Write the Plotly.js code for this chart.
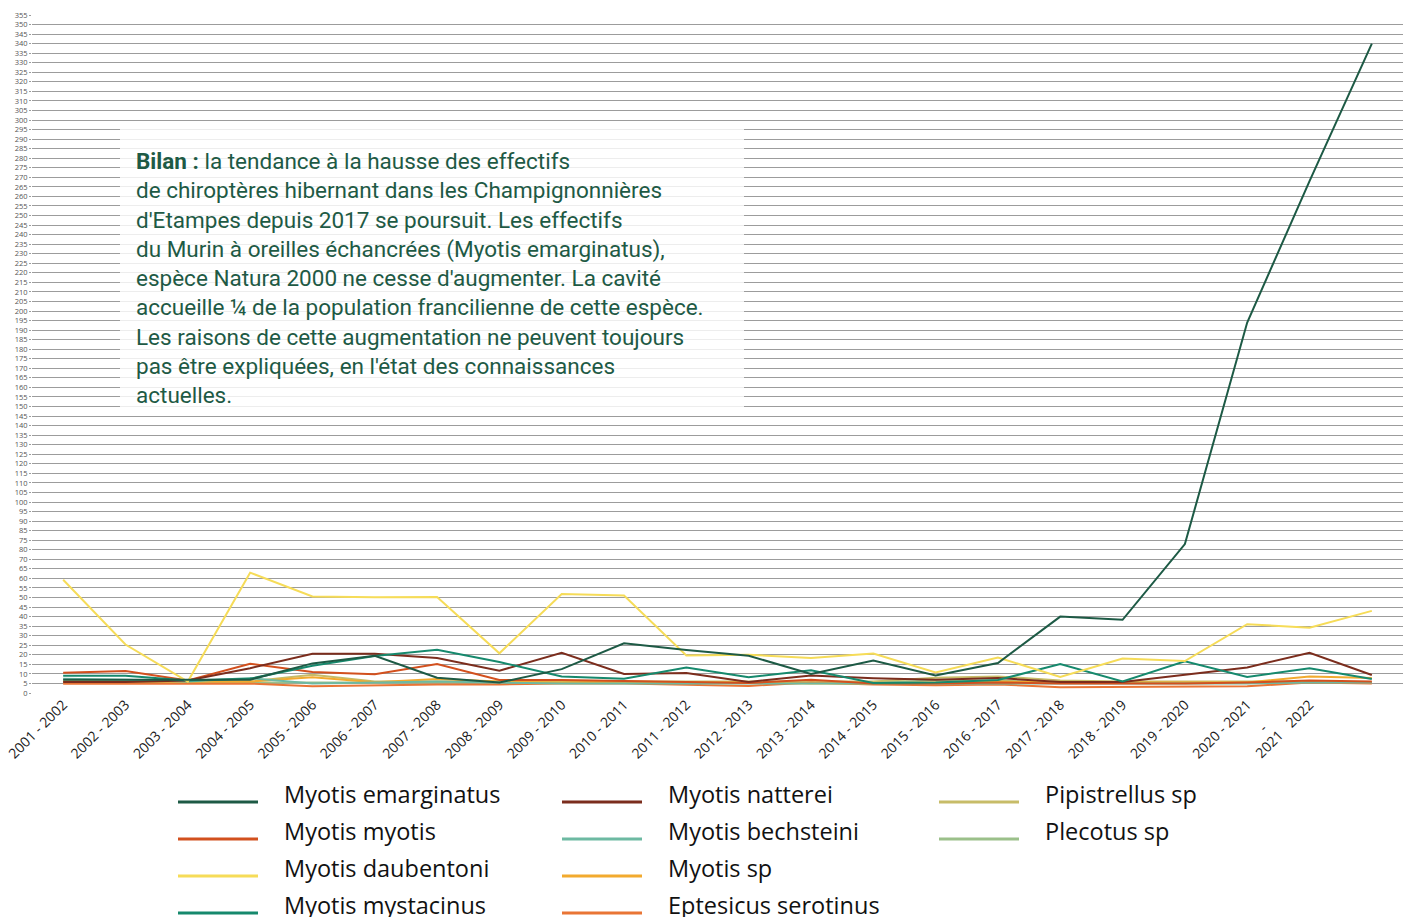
<!DOCTYPE html>
<html><head><meta charset="utf-8">
<script src="https://cdn.plot.ly/plotly-3.0.1.min.js"></script>
<style>html,body{margin:0;padding:0;background:#fff}#chart{width:1407px;height:917px}</style>
</head><body><div id="chart"></div>
<script>
// ---------- DATA ----------
const categories = ["2001 - 2002","2002 - 2003","2003 - 2004","2004 - 2005","2005 - 2006","2006 - 2007","2007 - 2008","2008 - 2009","2009 - 2010","2010 - 2011","2011 - 2012","2012 - 2013","2013 - 2014","2014 - 2015","2015 - 2016","2016 - 2017","2017 - 2018","2018 - 2019","2019 - 2020","2020 - 2021","2021\u00a0\u00a0\u00a02022"," "];

const emarginatus = [7, 7, 7, 7, 15.5, 19.5, 8, 5.5, 12.5, 26, 22.5, 19.5, 10, 17, 9.2, 15.7, 40, 38.3, 78, 194, 268, 340];
const myotis      = [10.6, 11.5, 6.5, 15.3, 11, 9.8, 15.2, 6.8, 6.8, 6.5, 5.8, 5.2, 7, 5, 5, 5.5, 5, 5, 5, 5.5, 6.5, 6];
const daubentoni  = [59.3, 25.4, 6, 63, 50.5, 50.2, 50.3, 20.8, 51.8, 51, 19.6, 20, 18.3, 20.7, 10.7, 18.6, 8.4, 18.1, 16.7, 36, 34.2, 43];
const mystacinus  = [9, 9, 6.6, 7.5, 14.3, 19.4, 22.7, 16.2, 8.7, 7.5, 13.4, 8.2, 11.9, 5.2, 5.5, 6.8, 15.2, 6.1, 16.6, 8.4, 12.9, 7.3];
const natterei    = [5.8, 5.8, 6.5, 13, 20.6, 20.6, 18.3, 11.7, 21.1, 10, 10.5, 5.8, 9.1, 7.7, 7, 7.8, 5.8, 5.8, 9.6, 13.4, 21.1, 9.4];
const bechsteini  = [7.5, 7, 6, 7.8, 5, 5.5, 6, 5.5, 5, 5, 5, 5, 5, 5, 5, 5, 5, 5, 5, 5, 5.5, 5.5];
const myotisSp    = [6, 6, 6, 6, 8.2, 5.6, 7.3, 6, 5.5, 6, 5.5, 5.5, 5, 5, 5.5, 6, 5.5, 5.5, 5.5, 5.5, 8.7, 7.8];
const serotinus   = [4.8, 4.8, 5, 5, 3.5, 4, 4.5, 4.5, 5, 5, 4.5, 3.7, 5.5, 4.5, 4, 4.5, 3, 3.2, 3.5, 3.5, 5.5, 5];
const pipistrellus= [6, 6, 6, 6, 9.6, 6, 6, 6, 6, 6, 6, 6, 6, 6, 8, 8.7, 6.5, 6, 6, 6, 6, 5.5];
const plecotus    = [5.5, 5.5, 5.5, 5.5, 5.5, 5.5, 5.5, 5.5, 5.5, 5.5, 5.5, 5.5, 5.5, 5.5, 6.5, 6.5, 5.5, 5.5, 5.5, 5.5, 5.5, 5.5];

const seriesNames = ["Myotis emarginatus","Myotis myotis","Myotis daubentoni","Myotis mystacinus","Myotis natterei","Myotis bechsteini","Myotis sp","Eptesicus serotinus","Pipistrellus sp","Plecotus sp"];
const seriesValues = [emarginatus, myotis, daubentoni, mystacinus, natterei, bechsteini, myotisSp, serotinus, pipistrellus, plecotus];
const seriesColors = ["#1d5a45","#d2501e","#f6dc58","#16896d","#7b2d1d","#6db9a2","#f2aa2e","#e97535","#c7bc68","#9bc08a"];

const yTickValues = [0,5,10,15,20,25,30,35,40,45,50,55,60,65,70,75,80,85,90,95,100,105,110,115,120,125,130,135,140,145,150,155,160,165,170,175,180,185,190,195,200,205,210,215,220,225,230,235,240,245,250,255,260,265,270,275,280,285,290,295,300,305,310,315,320,325,330,335,340,345,350,355];
const yTickLabels = ["0","5","10","15","20","25","30","35","40","45","50","55","60","65","70","80","75","85","90","95","100","105","110","115","120","125","130","135","140","145","150","155","160","165","170","175","180","185","190","195","200","205","210","215","220","225","230","235","240","245","250","255","260","265","270","275","280","285","290","295","300","305","310","315","320","325","330","335","340","345","350","355"];

const noteLines = [
  "<b>Bilan :</b> la tendance à la hausse des effectifs",
  "de chiroptères hibernant dans les Champignonnières",
  "d'Etampes depuis 2017 se poursuit. Les effectifs",
  "du Murin à oreilles échancrées (Myotis emarginatus),",
  "espèce Natura 2000 ne cesse d'augmenter. La cavité",
  "accueille ¼ de la population francilienne de cette espèce.",
  "Les raisons de cette augmentation ne peuvent toujours",
  "pas être expliquées, en l'état des connaissances",
  "actuelles."
];

// ---------- LAYOUT HELPERS (pixel -> paper) ----------
const W = 1407, H = 917;
const M = {l: 32, r: 4, t: 15, b: 224};
const plotW = W - M.l - M.r, plotH = H - M.t - M.b;
const px = x => (x - M.l) / plotW;
const py = y => (H - M.b - y) / plotH;

// draw order: minor ones first, main on top
const drawOrder = [9, 8, 7, 6, 5, 1, 4, 3, 2, 0];
const traces = drawOrder.map(i => ({
  type: "scatter", mode: "lines",
  x: categories, y: seriesValues[i], name: seriesNames[i],
  line: {color: seriesColors[i], width: 2},
  showlegend: false, hoverinfo: "x+y+name"
}));

const shapes = [];
const annotations = [];

// note box
shapes.push({type: "rect", xref: "paper", yref: "paper",
  x0: px(120), x1: px(744), y0: py(416), y1: py(127),
  fillcolor: "rgba(255,255,255,0.82)", line: {width: 0}, layer: "above"});
annotations.push({xref: "paper", yref: "paper", x: px(134), y: py(278),
  xanchor: "left", yanchor: "middle", align: "left", showarrow: false,
  text: noteLines.join("<br>"),
  font: {family: "Roboto", size: 22.5, color: "#1e5a45"}});

// small dash of the 2021-2022 tick label
annotations.push({xref: "paper", yref: "paper", x: px(1262), y: py(727),
  xanchor: "center", yanchor: "middle", showarrow: false, text: "-", textangle: -45,
  font: {family: "Open Sans, Noto Sans", size: 14, color: "#1a1a1a"}});

// manual legend (3 columns, 4 rows)
const legCols = [{line: 178, text: 282}, {line: 562, text: 666}, {line: 939, text: 1043}];
const legRowsLine = [802, 839, 876, 913];
const legRowsText = [794, 831, 868, 905];
seriesNames.forEach((name, i) => {
  const c = legCols[Math.floor(i / 4)], r = i % 4;
  shapes.push({type: "line", xref: "paper", yref: "paper",
    x0: px(c.line), x1: px(c.line + 80), y0: py(legRowsLine[r]), y1: py(legRowsLine[r]),
    line: {color: seriesColors[i], width: 3}});
  annotations.push({xref: "paper", yref: "paper", x: px(c.text), y: py(legRowsText[r]),
    xanchor: "left", yanchor: "middle", showarrow: false, text: name,
    font: {family: "Open Sans, Noto Sans", size: 23.5, color: "#111"}});
});

const layout = {
  width: W, height: H,
  margin: M,
  paper_bgcolor: "#fff", plot_bgcolor: "#fff",
  showlegend: false,
  xaxis: {type: "category", range: [-0.5, categories.length - 0.5],
    showgrid: false, zeroline: false, showline: false, ticks: "",
    tickangle: -45, tickfont: {family: "Open Sans, Noto Sans", size: 14, color: "#1a1a1a"},
    automargin: false},
  yaxis: {range: [0, 355], tickmode: "array", tickvals: yTickValues, ticktext: yTickLabels,
    showgrid: true, gridcolor: "#9c9c9c", gridwidth: 1, zeroline: false, showline: false,
    ticks: "outside", ticklen: 2, tickcolor: "#9c9c9c",
    tickfont: {family: "Open Sans, Noto Sans", size: 7.5, color: "#555"}, automargin: false},
  shapes: shapes,
  annotations: annotations
};

Plotly.newPlot("chart", traces, layout, {displayModeBar: false});
</script>
</body></html>
